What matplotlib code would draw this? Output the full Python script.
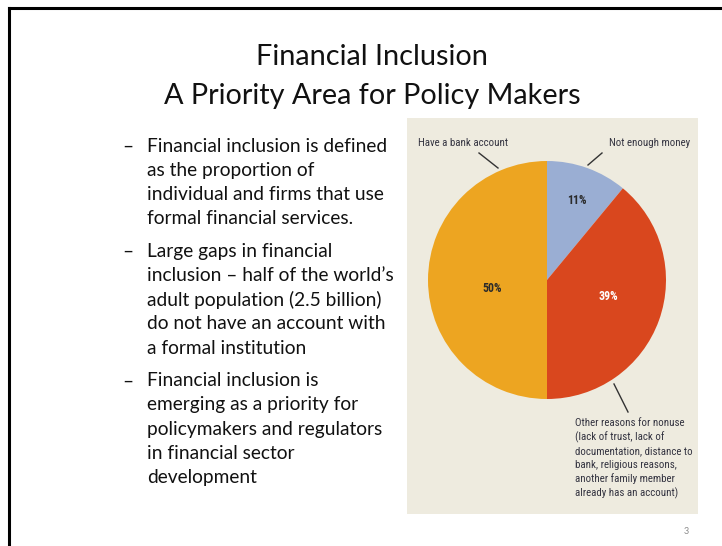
import matplotlib
matplotlib.use("Agg")
import matplotlib.pyplot as plt
from matplotlib.patches import Rectangle
from matplotlib import font_manager

# ---- data ----
slice_labels = ["Not enough money", "Other reasons for nonuse", "Have a bank account"]
slice_values = [11, 39, 50]
slice_colors = ["#9AAED3", "#D9471E", "#EDA521"]
pct_colors = ["#2b2b2b", "#ffffff", "#2b2b2b"]

title_lines = ["Financial Inclusion", "A Priority Area for Policy Makers"]
bullets = [
    ["Financial inclusion is defined", "as the proportion of",
     "individual and firms that use", "formal financial services."],
    ["Large gaps in financial", "inclusion \u2013 half of the world\u2019s",
     "adult population (2.5 billion)", "do not have an account with",
     "a formal institution"],
    ["Financial inclusion is", "emerging as a priority for",
     "policymakers and regulators", "in financial sector", "development"],
]
other_text = ["Other reasons for nonuse", "(lack of trust, lack of",
              "documentation, distance to", "bank, religious reasons,",
              "another family member", "already has an account)"]
page_number = "3"

available = {f.name for f in font_manager.fontManager.ttflist}


def pick(cands):
    for c in cands:
        if c in available:
            return c
    return "DejaVu Sans"


narrow = pick(["Liberation Sans Narrow", "Roboto Condensed", "DejaVu Sans Condensed",
               "Noto Sans Condensed", "Roboto", "Liberation Sans"])
is_narrow = ("Narrow" in narrow or "Condensed" in narrow)
narrow_size = 7.8 if is_narrow else 7.0
pct_size = 8.6 if is_narrow else 7.6

W, H = 722, 546
fig = plt.figure(figsize=(W / 100, H / 100), dpi=100)
bg = fig.add_axes([0, 0, 1, 1])
bg.set_xlim(0, W)
bg.set_ylim(H, 0)
bg.axis("off")

# slide border
bg.plot([9, 9], [H + 5, 7.5], color="black", lw=2.2, solid_capstyle="projecting")
bg.plot([9, W + 5], [7.5, 7.5], color="black", lw=2.2, solid_capstyle="projecting")

body_font = ["Lato", "DejaVu Sans"]
chart_font = [narrow, "DejaVu Sans"]

# title
for i, t in enumerate(title_lines):
    bg.text(372, 57 + i * 39, t, ha="center", va="center", fontsize=20.8,
            family=body_font, color="#111111")

# bullets
y = 146
for block in bullets:
    bg.text(122, y, "\u2013", ha="left", va="center", fontsize=13.8,
            family=body_font, color="#111111")
    for line in block:
        bg.text(147, y, line, ha="left", va="center", fontsize=13.8,
                family=body_font, color="#111111")
        y += 24.2
    y += 8.5

# beige panel
bg.add_patch(Rectangle((407, 118), 291, 396, facecolor="#EEEBDF", edgecolor="none"))

# pie
cx, cy, r = 547, 280, 119
pax = fig.add_axes([(cx - r) / W, (H - cy - r) / H, 2 * r / W, 2 * r / H])
wedges, _ = pax.pie(slice_values, colors=slice_colors, startangle=90,
                    counterclock=False, radius=1,
                    wedgeprops=dict(linewidth=0))
pax.set_xlim(-1, 1)
pax.set_ylim(-1, 1)
pax.set_aspect("equal")
pax.axis("off")

pct_pos = [(577, 201), (608, 296), (492, 289)]
for v, (px, py), c in zip(slice_values, pct_pos, pct_colors):
    pax.text(px, py, f"{v}%", ha="center", va="center", fontsize=pct_size,
             fontweight="bold", family=chart_font, color=c,
             transform=bg.transData, clip_on=False)

# callouts
txt_col = "#333340"
bg.text(463, 143, slice_labels[2], ha="center", va="center", fontsize=narrow_size,
        family=chart_font, color=txt_col)
bg.plot([479, 498], [153, 168], color="#333333", lw=1.0)
bg.text(609, 143, slice_labels[0], ha="left", va="center", fontsize=narrow_size,
        family=chart_font, color=txt_col)
bg.plot([602, 588], [153, 165], color="#333333", lw=1.0)
bg.plot([614, 628], [384, 412], color="#333333", lw=1.0)
for i, line in enumerate(other_text):
    bg.text(575, 423 + i * 14, line, ha="left", va="center", fontsize=narrow_size,
            family=chart_font, color=txt_col)

bg.text(686, 531, page_number, ha="center", va="center", fontsize=6.5,
        family=body_font, color="#8c8c8c")

fig.savefig("out.png", dpi=100)
